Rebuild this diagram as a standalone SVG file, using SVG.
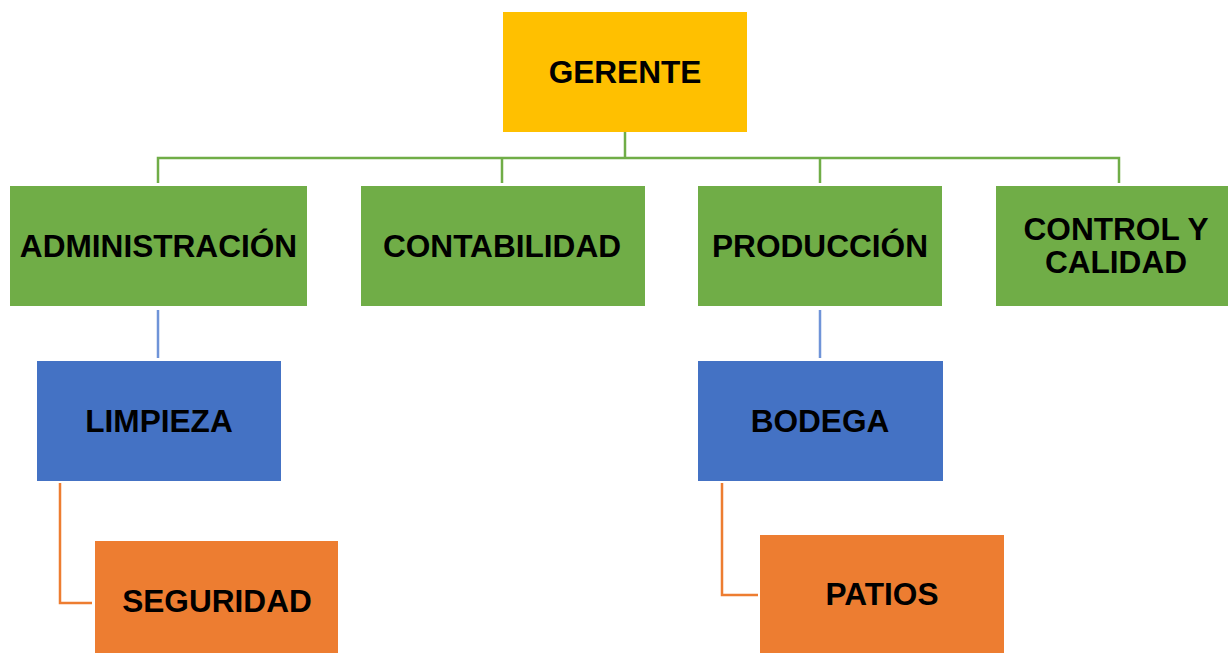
<svg xmlns="http://www.w3.org/2000/svg" width="1228" height="653" viewBox="0 0 1228 653">
<style>
.t{font-family:"Liberation Sans",Arial,sans-serif;font-weight:bold;font-size:31.6px;fill:#000;text-anchor:middle}
.y{fill:#FFC000}.g{fill:#70AD47}.b{fill:#4472C4}.o{fill:#ED7D31}
.cg{stroke:#70AD47;stroke-width:2.5;fill:none}
.cb{stroke:#6F94D8;stroke-width:2.5;fill:none}
.co{stroke:#ED7D31;stroke-width:2.5;fill:none}
</style>
<rect width="1228" height="653" fill="#fff"/>
<g id="connectors">
<path class="cg" d="M625 132V158M158 183V158H1119V183M502 158V183M820 158V183"/>
<path class="cb" d="M158 310V358M820 310V358"/>
<path class="co" d="M60 483V603H92M722 483V595H758"/>
</g>
<g id="gerente"><rect class="y" x="503" y="12" width="244" height="120"/><text class="t" x="625" y="83">GERENTE</text></g>
<g id="administracion"><rect class="g" x="10" y="186" width="297" height="120"/><text class="t" x="158.5" y="257">ADMINISTRACIÓN</text></g>
<g id="contabilidad"><rect class="g" x="361" y="186" width="284" height="120"/><text class="t" x="502" y="257">CONTABILIDAD</text></g>
<g id="produccion"><rect class="g" x="698" y="186" width="244" height="120"/><text class="t" x="820" y="257">PRODUCCIÓN</text></g>
<g id="control"><rect class="g" x="996" y="186" width="232" height="120"/><text class="t" x="1116" y="240">CONTROL Y</text><text class="t" x="1116" y="273">CALIDAD</text></g>
<g id="limpieza"><rect class="b" x="37" y="361" width="244" height="120"/><text class="t" x="159" y="432">LIMPIEZA</text></g>
<g id="bodega"><rect class="b" x="698" y="361" width="245" height="120"/><text class="t" x="820" y="432">BODEGA</text></g>
<g id="seguridad"><rect class="o" x="95" y="541" width="243" height="112"/><text class="t" x="217" y="612">SEGURIDAD</text></g>
<g id="patios"><rect class="o" x="760" y="535" width="244" height="118"/><text class="t" x="882" y="605">PATIOS</text></g>
</svg>
